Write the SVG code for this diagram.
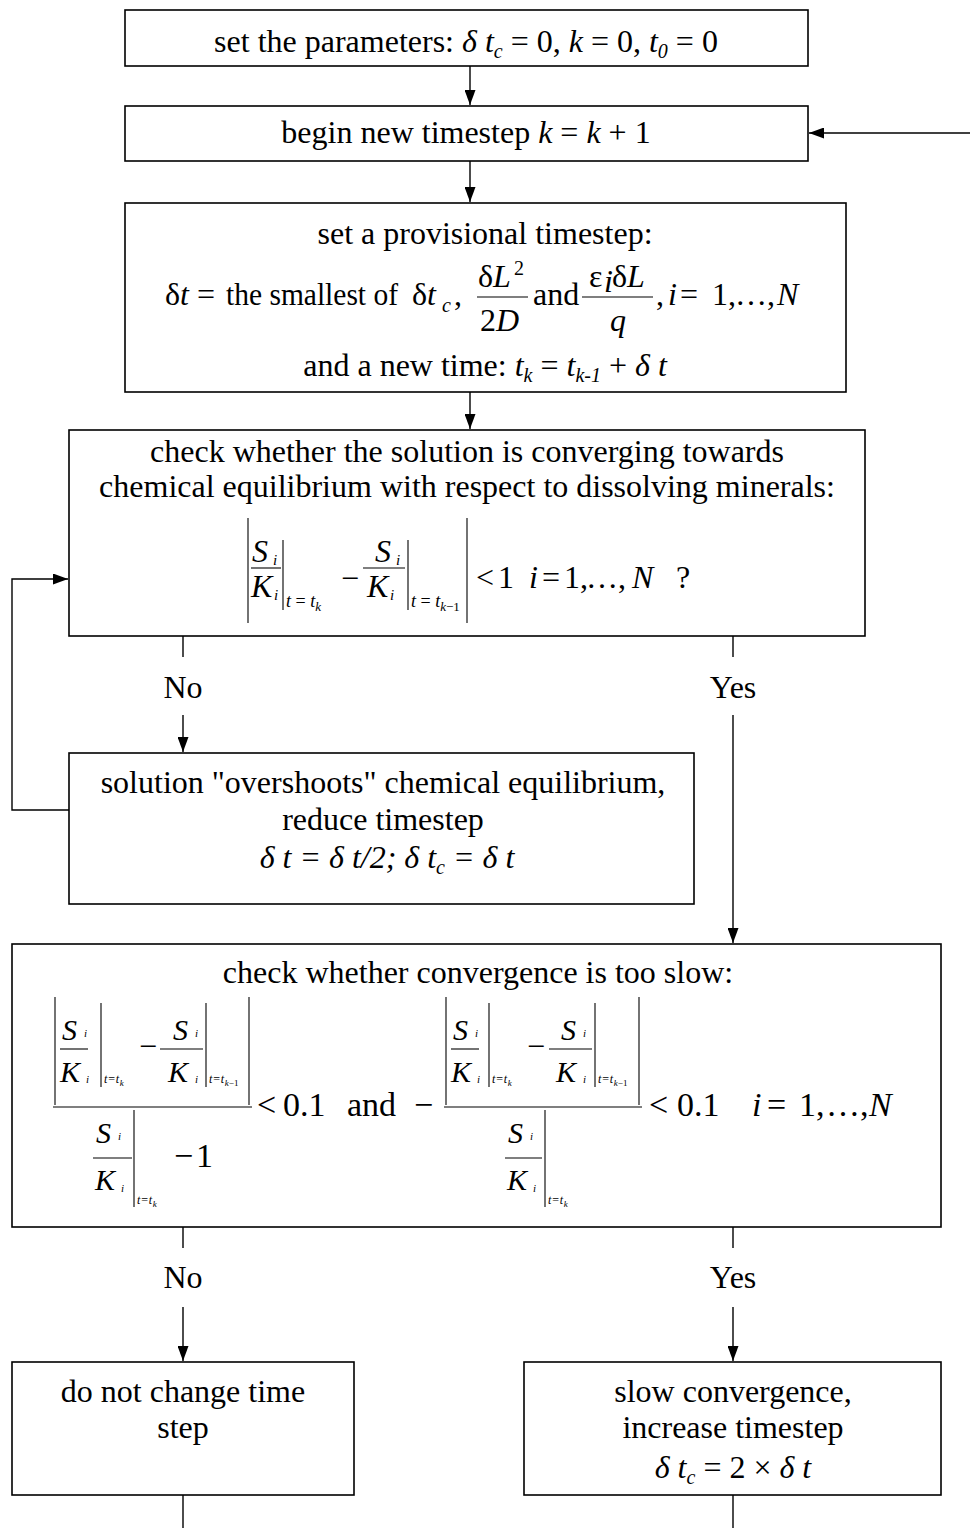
<svg xmlns="http://www.w3.org/2000/svg" width="970" height="1528" viewBox="0 0 970 1528">
<style>
text{font-family:"Liberation Serif","Times New Roman",serif;font-size:32px;fill:#000}
.i{font-style:italic}
.s{font-size:20px}
.box{fill:#fff;stroke:#000;stroke-width:1.6}
.ln{stroke:#000;stroke-width:1.4;fill:none}
.mb{stroke:#000;stroke-width:1.1;fill:none}
.f{font-size:30px;font-style:italic}
.fi{font-size:11px;font-style:italic}
.fs{font-size:12px;font-style:italic;letter-spacing:0.8px}
.fss{font-size:9px;font-style:italic;letter-spacing:0}
.mi{font-size:15px;font-style:italic}
.ms{font-size:18px;font-style:italic}
.mss{font-size:13px;font-style:italic}
.g{font-size:34px}
</style>
<defs>
<marker id="ah" markerUnits="userSpaceOnUse" markerWidth="15" markerHeight="11" refX="15" refY="5.5" orient="auto">
<path d="M0,0 L15,5.5 L0,11 z" fill="#000"/>
</marker>
</defs>
<rect width="970" height="1528" fill="#fff"/>

<g id="connectors">
<line class="ln" x1="470" y1="66" x2="470" y2="105" marker-end="url(#ah)"/>
<line class="ln" x1="970" y1="133" x2="809" y2="133" marker-end="url(#ah)"/>
<line class="ln" x1="470" y1="161" x2="470" y2="202" marker-end="url(#ah)"/>
<line class="ln" x1="470" y1="392" x2="470" y2="429" marker-end="url(#ah)"/>
<line class="ln" x1="183" y1="636" x2="183" y2="657"/>
<line class="ln" x1="733" y1="636" x2="733" y2="657"/>
<line class="ln" x1="183" y1="715" x2="183" y2="752" marker-end="url(#ah)"/>
<line class="ln" x1="733" y1="715" x2="733" y2="943" marker-end="url(#ah)"/>
<polyline class="ln" points="69,810 12,810 12,579 68,579" marker-end="url(#ah)"/>
<line class="ln" x1="183" y1="1227" x2="183" y2="1248"/>
<line class="ln" x1="733" y1="1227" x2="733" y2="1248"/>
<line class="ln" x1="183" y1="1307" x2="183" y2="1361" marker-end="url(#ah)"/>
<line class="ln" x1="733" y1="1307" x2="733" y2="1361" marker-end="url(#ah)"/>
<line class="ln" x1="183" y1="1495" x2="183" y2="1528"/>
<line class="ln" x1="733" y1="1495" x2="733" y2="1528"/>
<text x="183" y="698" text-anchor="middle">No</text>
<text x="733" y="698" text-anchor="middle">Yes</text>
<text x="183" y="1288" text-anchor="middle">No</text>
<text x="733" y="1288" text-anchor="middle">Yes</text>
</g>

<g id="n1">
<rect class="box" x="125" y="10" width="683" height="56"/>
<text x="466" y="52" text-anchor="middle">set the parameters: <tspan class="i">δ t</tspan><tspan class="i s" dy="6">c</tspan><tspan dy="-6"> = 0, </tspan><tspan class="i">k</tspan> = 0, <tspan class="i">t</tspan><tspan class="i s" dy="6">0</tspan><tspan dy="-6"> = 0</tspan></text>
</g>

<g id="n2">
<rect class="box" x="125" y="106" width="683" height="55"/>
<text x="466" y="143" text-anchor="middle">begin new timestep <tspan class="i">k</tspan> = <tspan class="i">k</tspan> + 1</text>
</g>

<g id="n3">
<rect class="box" x="125" y="203" width="721" height="189"/>
<text x="485" y="244" text-anchor="middle">set a provisional timestep:</text>
<text x="165" y="305">δ<tspan class="i">t</tspan></text>
<text x="197" y="305">=</text>
<text x="226" y="305" font-size="28" textLength="172" lengthAdjust="spacingAndGlyphs">the smallest of</text>
<text x="412" y="305">δ<tspan class="i">t</tspan></text>
<text x="442" y="312" class="i s">c</text>
<text x="454" y="305">,</text>
<text x="478" y="287">δ<tspan class="i">L</tspan></text>
<text x="514" y="275" class="s">2</text>
<line class="mb" x1="477" y1="297" x2="528" y2="297"/>
<text x="480" y="331">2<tspan class="i">D</tspan></text>
<text x="533" y="305">and</text>
<text x="589" y="287">ε</text>
<text x="604" y="292" class="i" font-size="16">i</text>
<text x="612" y="287">δ<tspan class="i">L</tspan></text>
<line class="mb" x1="582" y1="297" x2="653" y2="297"/>
<text x="610" y="331" class="i">q</text>
<text x="656" y="305">,</text>
<text x="668" y="305" class="i">i</text>
<text x="680" y="305">=</text>
<text x="712" y="305">1,</text>
<text x="735" y="305">…,</text>
<text x="777" y="305" class="i">N</text>
<text x="485" y="376" text-anchor="middle">and a new time: <tspan class="i">t</tspan><tspan class="i s" dy="6">k</tspan><tspan dy="-6"> = </tspan><tspan class="i">t</tspan><tspan class="i s" dy="6">k-1</tspan><tspan dy="-6"> + </tspan><tspan class="i">δ t</tspan></text>
</g>

<g id="n4">
<rect class="box" x="69" y="430" width="796" height="206"/>
<text x="467" y="462" text-anchor="middle">check whether the solution is converging towards</text>
<text x="467" y="497" text-anchor="middle">chemical equilibrium with respect to dissolving minerals:</text>
<line class="mb" x1="248" y1="518" x2="248" y2="623"/>
<text x="252" y="562" class="i">S</text>
<text x="273" y="565" class="mi">i</text>
<line class="mb" x1="251" y1="568" x2="281" y2="568"/>
<text x="251" y="597" class="i">K</text>
<text x="274" y="600" class="mi">i</text>
<line class="mb" x1="283" y1="540" x2="283" y2="610"/>
<text x="286" y="607" class="ms">t <tspan font-style="normal">=</tspan> t<tspan class="mss" dy="4">k</tspan></text>
<text x="341" y="589">−</text>
<text x="375" y="562" class="i">S</text>
<text x="396" y="565" class="mi">i</text>
<line class="mb" x1="363" y1="568" x2="405" y2="568"/>
<text x="367" y="597" class="i">K</text>
<text x="390" y="600" class="mi">i</text>
<line class="mb" x1="408" y1="540" x2="408" y2="610"/>
<text x="411" y="607" class="ms">t <tspan font-style="normal">=</tspan> t<tspan class="mss" dy="4">k<tspan font-style="normal">−1</tspan></tspan></text>
<line class="mb" x1="467" y1="518" x2="467" y2="623"/>
<text x="476" y="588">&lt;</text>
<text x="498" y="588">1</text>
<text x="529" y="588" class="i">i</text>
<text x="542" y="588">=</text>
<text x="564" y="588">1,</text>
<text x="586" y="588">…,</text>
<text x="632" y="588" class="i">N</text>
<text x="676" y="588">?</text>
</g>

<g id="n5">
<rect class="box" x="69" y="753" width="625" height="151"/>
<text x="383" y="793" text-anchor="middle">solution "overshoots" chemical equilibrium,</text>
<text x="383" y="830" text-anchor="middle">reduce timestep</text>
<text x="387" y="868" text-anchor="middle" class="i">δ t = δ t/2; δ t<tspan class="s" dy="6">c</tspan><tspan dy="-6"> = δ t</tspan></text>
</g>

<g id="n6">
<rect class="box" x="12" y="944" width="929" height="283"/>
<text x="478" y="983" text-anchor="middle">check whether convergence is too slow:</text>
<!-- left formula -->
<line class="mb" x1="53" y1="1107" x2="252" y2="1107"/>
<line class="mb" x1="55" y1="997" x2="55" y2="1105"/>
<text x="62" y="1040" class="f">S</text>
<text x="84" y="1037" class="fi">i</text>
<line class="mb" x1="60" y1="1049" x2="88" y2="1049"/>
<text x="60" y="1082" class="f">K</text>
<text x="86" y="1083" class="fi">i</text>
<line class="mb" x1="101" y1="1003" x2="101" y2="1087"/>
<text x="104" y="1083" class="fs">t<tspan font-style="normal">=</tspan>t<tspan class="fss" dy="3">k</tspan></text>
<text x="139" y="1057" font-size="30">−</text>
<text x="173" y="1040" class="f">S</text>
<text x="195" y="1037" class="fi">i</text>
<line class="mb" x1="160" y1="1049" x2="203" y2="1049"/>
<text x="168" y="1082" class="f">K</text>
<text x="195" y="1083" class="fi">i</text>
<line class="mb" x1="206" y1="1003" x2="206" y2="1087"/>
<text x="209" y="1083" class="fs">t<tspan font-style="normal">=</tspan>t<tspan class="fss" dy="3">k<tspan font-style="normal">−1</tspan></tspan></text>
<line class="mb" x1="249" y1="997" x2="249" y2="1105"/>
<text x="96" y="1143" class="f">S</text>
<text x="118" y="1140" class="fi">i</text>
<line class="mb" x1="93" y1="1158" x2="132" y2="1158"/>
<text x="95" y="1190" class="f">K</text>
<text x="121" y="1192" class="fi">i</text>
<line class="mb" x1="134" y1="1110" x2="134" y2="1207"/>
<text x="137" y="1204" class="fs">t<tspan font-style="normal">=</tspan>t<tspan class="fss" dy="3">k</tspan></text>
<text x="174" y="1167" class="g">−</text>
<text x="196" y="1167" class="g">1</text>
<text x="257" y="1116" class="g">&lt;</text>
<text x="283" y="1116" class="g">0.1</text>
<text x="347" y="1116" class="g">and</text>
<text x="414" y="1116" class="g">−</text>
<!-- right formula -->
<line class="mb" x1="444" y1="1107" x2="642" y2="1107"/>
<line class="mb" x1="446" y1="997" x2="446" y2="1105"/>
<text x="453" y="1040" class="f">S</text>
<text x="475" y="1037" class="fi">i</text>
<line class="mb" x1="451" y1="1049" x2="479" y2="1049"/>
<text x="451" y="1082" class="f">K</text>
<text x="477" y="1083" class="fi">i</text>
<line class="mb" x1="489" y1="1003" x2="489" y2="1087"/>
<text x="492" y="1083" class="fs">t<tspan font-style="normal">=</tspan>t<tspan class="fss" dy="3">k</tspan></text>
<text x="527" y="1057" font-size="30">−</text>
<text x="561" y="1040" class="f">S</text>
<text x="583" y="1037" class="fi">i</text>
<line class="mb" x1="549" y1="1049" x2="592" y2="1049"/>
<text x="556" y="1082" class="f">K</text>
<text x="583" y="1083" class="fi">i</text>
<line class="mb" x1="595" y1="1003" x2="595" y2="1087"/>
<text x="598" y="1083" class="fs">t<tspan font-style="normal">=</tspan>t<tspan class="fss" dy="3">k<tspan font-style="normal">−1</tspan></tspan></text>
<line class="mb" x1="639" y1="997" x2="639" y2="1105"/>
<text x="508" y="1143" class="f">S</text>
<text x="530" y="1140" class="fi">i</text>
<line class="mb" x1="505" y1="1158" x2="542" y2="1158"/>
<text x="507" y="1190" class="f">K</text>
<text x="533" y="1192" class="fi">i</text>
<line class="mb" x1="545" y1="1110" x2="545" y2="1207"/>
<text x="548" y="1204" class="fs">t<tspan font-style="normal">=</tspan>t<tspan class="fss" dy="3">k</tspan></text>
<text x="649" y="1116" class="g">&lt;</text>
<text x="677" y="1116" class="g">0.1</text>
<text x="752" y="1116" class="g i">i</text>
<text x="767" y="1116" class="g">=</text>
<text x="799" y="1116" class="g">1,</text>
<text x="826" y="1116" class="g">…,</text>
<text x="869" y="1116" class="g i">N</text>
</g>

<g id="n7">
<rect class="box" x="12" y="1362" width="342" height="133"/>
<text x="183" y="1402" text-anchor="middle">do not change time</text>
<text x="183" y="1438" text-anchor="middle">step</text>
</g>

<g id="n8">
<rect class="box" x="524" y="1362" width="417" height="133"/>
<text x="733" y="1402" text-anchor="middle">slow convergence,</text>
<text x="733" y="1438" text-anchor="middle">increase timestep</text>
<text x="733" y="1478" text-anchor="middle"><tspan class="i">δ t</tspan><tspan class="i s" dy="6">c</tspan><tspan dy="-6"> = 2 × </tspan><tspan class="i">δ t</tspan></text>
</g>
</svg>
